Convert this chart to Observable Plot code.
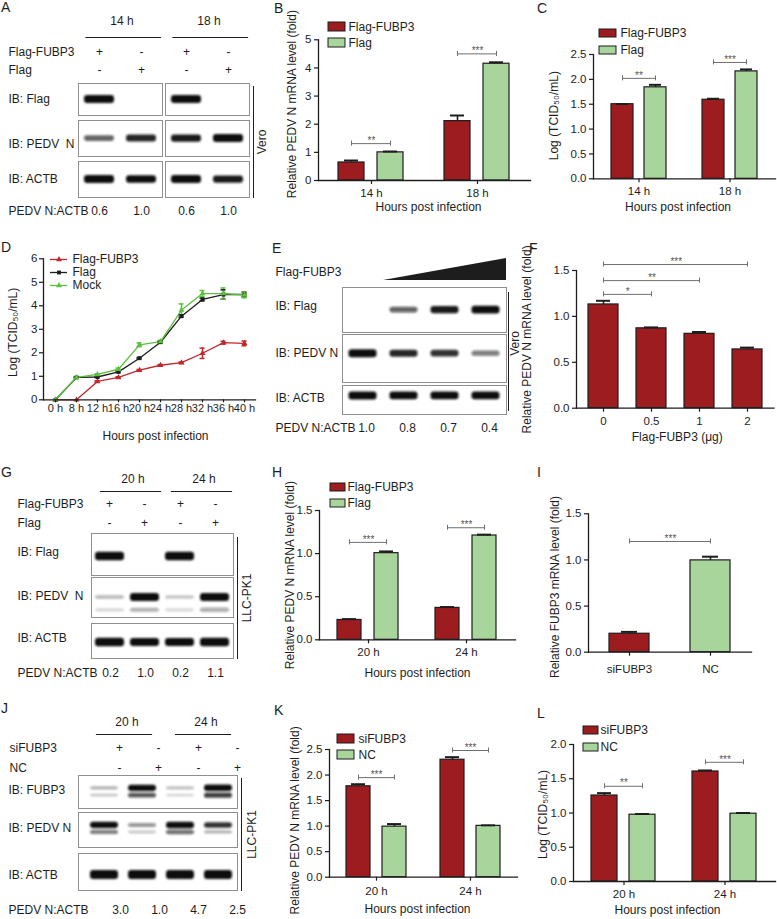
<!DOCTYPE html>
<html><head><meta charset="utf-8">
<script src="https://cdn.jsdelivr.net/npm/d3@7"></script>
<script src="https://cdn.jsdelivr.net/npm/@observablehq/plot@0.6"></script>
<style>
html,body{margin:0;padding:0;background:#fff;overflow:hidden}
#fig{position:relative;width:777px;height:919px;overflow:hidden;background:#fff;font-family:"Liberation Sans",Arial,Helvetica,sans-serif;color:#1d1d1d}
.plab{position:absolute;font-size:14px;line-height:14px}
</style></head><body><div id="fig"></div><script>
// ================= DATA =================
// A (western blot, Vero)
const aTimes = ["14 h", "18 h"];
const aConds = ["Flag-FUBP3", "Flag"];
const aSigns = [["+", "-", "+", "-"], ["-", "+", "-", "+"]];
const aFlag = [1, 0, 1, 0];
const aPedv = [0.55, 0.8, 0.85, 1];
const aActb = [1, 0.9, 1, 0.85];
const aRatio = ["0.6", "1.0", "0.6", "1.0"];
// B
const bGroups = ["14 h", "18 h"];
const bSeries = ["Flag-FUBP3", "Flag"];
const bMean = [[0.64, 1.0], [2.11, 4.15]];
const bSem = [[0.07, 0.03], [0.2, 0.05]];
const bStars = ["**", "***"];
const bBracket = [1.31, 4.5];
// C
const cGroups = ["14 h", "18 h"];
const cMean = [[1.5, 1.84], [1.59, 2.16]];
const cSem = [[0.005, 0.05], [0.02, 0.04]];
const cStars = ["**", "***"];
const cBracket = [2.02, 2.34];
// D
const dTimes = ["0 h", "8 h", "12 h", "16 h", "20 h", "24 h", "28 h", "32 h", "36 h", "40 h"];
const dSeries = ["Flag-FUBP3", "Flag", "Mock"];
const dFubp3 = [0, 0, 0.78, 0.95, 1.26, 1.47, 1.58, 1.98, 2.43, 2.4];
const dFlag = [0, 0.95, 0.97, 1.19, 1.77, 2.45, 3.56, 4.27, 4.48, 4.48];
const dMock = [0, 0.95, 1.08, 1.3, 2.34, 2.48, 3.82, 4.52, 4.52, 4.46];
const dFubp3Err = [0, 0, 0.03, 0.03, 0.03, 0.03, 0.03, 0.22, 0.06, 0.1];
const dFlagErr = [0, 0.02, 0.02, 0.03, 0.03, 0.03, 0.05, 0.06, 0.2, 0.1];
const dMockErr = [0, 0.03, 0.03, 0.05, 0.08, 0.05, 0.26, 0.13, 0.24, 0.12];
// E (western blot, dose)
const eDoses = ["0", "0.5", "1", "2"];
const eWedge = [0, 1];
const eFlag = [0, 0.55, 0.85, 0.95];
const ePedv = [1, 0.8, 0.75, 0.45];
const eActb = [1, 0.95, 0.95, 0.95];
const eRatio = ["1.0", "0.8", "0.7", "0.4"];
// F
const fMean = [1.13, 0.87, 0.81, 0.64];
const fSem = [0.04, 0.01, 0.02, 0.02];
const fSig = [{from: "0", to: "0.5", label: "*", y: 1.24}, {from: "0", to: "1", label: "**", y: 1.39}, {from: "0", to: "2", label: "***", y: 1.565}];
// G (western blot, LLC-PK1)
const gTimes = ["20 h", "24 h"];
const gConds = ["Flag-FUBP3", "Flag"];
const gSigns = [["+", "-", "+", "-"], ["-", "+", "-", "+"]];
const gFlag = [1, 0, 1, 0];
const gPedv = [0.15, 0.9, 0.12, 0.95];
const gPedvLow = [0.06, 0.2, 0.05, 0.25];
const gActb = [1, 0.9, 0.9, 1];
const gRatio = ["0.2", "1.0", "0.2", "1.1"];
// H
const hGroups = ["20 h", "24 h"];
const hMean = [[0.23, 1.005], [0.37, 1.21]];
const hSem = [[0.01, 0.02], [0.01, 0.01]];
const hStars = ["***", "***"];
const hBracket = [1.13, 1.30];
// I
const iCats = ["siFUBP3", "NC"];
const iMean = [0.2, 0.995];
const iSem = [0.02, 0.04];
const iSig = [{from: "siFUBP3", to: "NC", label: "***", y: 1.2}];
// J (western blot, knockdown)
const jTimes = ["20 h", "24 h"];
const jConds = ["siFUBP3", "NC"];
const jSigns = [["+", "-", "+", "-"], ["-", "+", "-", "+"]];
const jFubp3Up = [0.2, 0.95, 0.15, 1];
const jFubp3Low = [0.12, 0.6, 0.06, 0.7];
const jPedvUp = [0.95, 0.35, 1, 0.75];
const jPedvLow = [0.45, 0.12, 0.5, 0.2];
const jActb = [1, 1, 1, 1];
const jRatio = ["3.0", "1.0", "4.7", "2.5"];
// K
const kGroups = ["20 h", "24 h"];
const kSeries = ["siFUBP3", "NC"];
const kMean = [[1.78, 0.99], [2.3, 1.005]];
const kSem = [[0.04, 0.05], [0.05, 0.01]];
const kStars = ["***", "***"];
const kBracket = [1.95, 2.48];
// L
const lGroups = ["20 h", "24 h"];
const lMean = [[1.255, 0.975], [1.606, 0.99]];
const lSem = [[0.035, 0.01], [0.015, 0.01]];
const lStars = ["**", "***"];
const lBracket = [1.39, 1.74];

// ================= STYLE / HELPERS =================
const fig = document.getElementById("fig");
const W = 777, H = 919;
const FONT = '"Liberation Sans", Arial, Helvetica, sans-serif';
const INK = "#1d1d1d";
const RED = "#9d1c20", GREEN = "#a8d59b";
const SIG = "#6f6f6f";
const STAR = "#555555";
const D_COLORS = ["#c0282d", "#1d1d1d", "#5cbf3e"];
const LOGT = "Log (TCID\u2085\u2080/mL)";
const f1 = d3.format(".1f");
let uid = 0;

function page(frame, opts) {
  const [l, t, r, b] = frame;
  const svg = Plot.plot({
    width: W, height: H,
    marginLeft: l, marginTop: t, marginRight: W - r, marginBottom: H - b,
    style: {fontFamily: FONT, fontSize: "12px", color: INK, background: "none", overflow: "visible"},
    ...opts
  });
  svg.style.position = "absolute";
  svg.style.left = "0px";
  svg.style.top = "0px";
  fig.appendChild(svg);
  return svg;
}

function blur(svg, sd) {
  const id = "bl" + (uid++);
  const ns = "http://www.w3.org/2000/svg";
  const defs = document.createElementNS(ns, "defs");
  const f = document.createElementNS(ns, "filter");
  f.setAttribute("id", id);
  f.setAttribute("filterUnits", "userSpaceOnUse");
  f.setAttribute("x", -W); f.setAttribute("y", -H);
  f.setAttribute("width", 3 * W); f.setAttribute("height", 3 * H);
  const g = document.createElementNS(ns, "feGaussianBlur");
  g.setAttribute("stdDeviation", sd);
  f.appendChild(g); defs.appendChild(f);
  svg.insertBefore(defs, svg.firstChild);
  svg.querySelectorAll('g[aria-label="bar"]').forEach(e => e.setAttribute("filter", `url(#${id})`));
}

function laneRecs(groups, lanes) {
  return groups ? groups.flatMap(g => lanes.map(l => ({group: g, lane: l}))) : lanes.map(l => ({lane: l}));
}
function bandsOf(recs, values, level) {
  return recs.map((r, i) => ({...r, level, v: values[i]}));
}

const yTitleOpts = {textAnchor: "middle", lineAnchor: "middle", frameAnchor: "left", rotate: -90, fontSize: 12};
const xTitleOpts = {textAnchor: "middle", lineAnchor: "middle", frameAnchor: "bottom", fontSize: 12};

function swatchLegend(o) {
  const n = o.series.length;
  page([o.x, o.y, o.x + o.w, o.y + o.step * (n - 1) + o.h], {
    y: {domain: o.series, paddingInner: (o.step - o.h) / o.step, paddingOuter: 0, axis: null},
    color: {domain: o.series, range: [RED, GREEN]},
    marks: [
      Plot.cell(o.series, {y: d => d, fill: d => d, stroke: INK, strokeWidth: 1}),
      Plot.text(o.series, {y: d => d, text: d => d, frameAnchor: "right", textAnchor: "start", lineAnchor: "middle", dx: o.gap, fontSize: 12})
    ]
  });
}

function groupedBars(o) {
  const data = o.groups.flatMap((g, gi) => o.series.map((s, si) => ({group: g, series: s, value: o.mean[gi][si], err: o.sem[gi][si]})));
  const sig = o.groups.map((g, gi) => ({group: g, label: o.stars[gi], y: o.bracket[gi]}));
  const ends = sig.flatMap(d => o.series.map(s => ({...d, series: s})));
  const fxs = {fx: "group", x: "series"};
  page(o.frame, {
    fx: {domain: o.groups, paddingInner: 0, paddingOuter: 0, axis: null},
    x: {domain: o.series, paddingInner: o.pi, paddingOuter: o.po, axis: null},
    y: {domain: o.yDomain, axis: null},
    color: {domain: o.series, range: [RED, GREEN]},
    marks: [
      Plot.barY(data, {...fxs, y: "value", fill: "series", stroke: INK, strokeWidth: 1.2}),
      Plot.ruleX(data, {...fxs, y1: "value", y2: d => d.value + d.err, stroke: INK, strokeWidth: 1.6}),
      Plot.tickY(data, {...fxs, y: d => d.value + d.err, stroke: INK, strokeWidth: 2, insetLeft: o.cap, insetRight: o.cap}),
      Plot.link(sig, {fx: "group", x1: () => o.series[0], x2: () => o.series[1], y1: "y", y2: "y", stroke: SIG, strokeWidth: 1}),
      Plot.ruleX(ends, {...fxs, y1: "y", y2: "y", insetTop: -2.5, insetBottom: -2.5, stroke: SIG, strokeWidth: 1}),
      Plot.text(sig, {fx: "group", y: "y", text: "label", dy: -3, fill: STAR, fontSize: 10}),
      Plot.axisY({ticks: o.yTicks, tickFormat: o.fmt, tickSize: 4, tickPadding: 3, fontSize: 11.5, strokeWidth: 1.2, label: null}),
      Plot.axisFx({anchor: "bottom", tickSize: 4, tickPadding: o.xTickPad ?? 4, fontSize: 11.5, strokeWidth: 1.2, label: null}),
      Plot.frame({anchor: "left", facet: "super", stroke: INK, strokeWidth: 1.3}),
      Plot.frame({anchor: "bottom", facet: "super", stroke: INK, strokeWidth: 1.3}),
      Plot.text([o.yTitle], {...yTitleOpts, facet: "super", text: d => d, dx: o.ytDx, dy: o.ytDy || 0}),
      Plot.text([o.xTitle], {...xTitleOpts, facet: "super", text: d => d, dy: o.xtDy, dx: o.xtDx || 0})
    ]
  });
  swatchLegend({...o.legend, series: o.series});
}

function singleBars(o) {
  const data = o.cats.map((c, i) => ({cat: c, value: o.mean[i], err: o.sem[i]}));
  const ends = o.sig.flatMap(d => [{...d, cat: d.from}, {...d, cat: d.to}]);
  const n = o.cats.length;
  const step = (o.frame[2] - o.frame[0]) / (n - o.pi + 2 * o.po);
  const starMarks = o.sig.map(d => Plot.text([d], {x: "from", y: "y", text: "label", dy: -3, dx: (o.cats.indexOf(d.to) - o.cats.indexOf(d.from)) * step / 2, fill: STAR, fontSize: 10}));
  page(o.frame, {
    x: {domain: o.cats, paddingInner: o.pi, paddingOuter: o.po, axis: null},
    y: {domain: o.yDomain, axis: null},
    color: {domain: o.cats, range: o.fills},
    marks: [
      Plot.barY(data, {x: "cat", y: "value", fill: "cat", stroke: INK, strokeWidth: 1.2}),
      Plot.ruleX(data, {x: "cat", y1: "value", y2: d => d.value + d.err, stroke: INK, strokeWidth: 1.6}),
      Plot.tickY(data, {x: "cat", y: d => d.value + d.err, stroke: INK, strokeWidth: 2, insetLeft: o.cap, insetRight: o.cap}),
      Plot.link(o.sig, {x1: "from", x2: "to", y1: "y", y2: "y", stroke: SIG, strokeWidth: 1}),
      Plot.ruleX(ends, {x: "cat", y1: "y", y2: "y", insetTop: -2.5, insetBottom: -2.5, stroke: SIG, strokeWidth: 1}),
      ...starMarks,
      Plot.axisY({ticks: o.yTicks, tickFormat: o.fmt, tickSize: 4, tickPadding: 3, fontSize: 11.5, strokeWidth: 1.2, label: null}),
      Plot.axisX({tickSize: 4, tickPadding: o.xTickPad ?? 4, fontSize: 11.5, strokeWidth: 1.2, label: null}),
      Plot.frame({anchor: "left", stroke: INK, strokeWidth: 1.3}),
      Plot.frame({anchor: "bottom", stroke: INK, strokeWidth: 1.3}),
      Plot.text([o.yTitle], {...yTitleOpts, text: d => d, dx: o.ytDx, dy: o.ytDy || 0}),
      o.xTitle ? Plot.text([o.xTitle], {...xTitleOpts, text: d => d, dy: o.xtDy, dx: o.xtDx || 0}) : null
    ]
  });
}

function blotRow(o) {
  const [l, t, r, b] = o.box;
  const hpx = b - t;
  const half = d => (o.thin + o.thick * d.v) / 2 / hpx;
  const hasFx = !!o.groups;
  const bands = o.bands.filter(d => d.v > 0);
  const svg = page(o.box, {
    fx: hasFx ? {domain: o.groups, paddingInner: o.fxPad, paddingOuter: 0, axis: null} : undefined,
    x: {domain: o.lanes, paddingInner: 0, paddingOuter: o.po || 0, align: o.align ?? 0.5, axis: null},
    y: {domain: [0, 1], axis: null},
    marks: [
      Plot.barY(bands, {...(hasFx ? {fx: "group"} : {}), x: "lane", y1: d => o.levels[d.level] - half(d), y2: d => o.levels[d.level] + half(d),
        fill: "#111", fillOpacity: d => Math.min(1, 0.1 + d.v), insetLeft: o.inset, insetRight: o.inset, rx: 3}),
      Plot.frame({stroke: "#8f8f8f", strokeWidth: 1}),
      Plot.text([o.label], {...(hasFx ? {fx: () => o.groups[0]} : {}), text: d => d, frameAnchor: "left", textAnchor: "start", lineAnchor: "middle", dx: o.labelX - l, dy: o.labelDy || 0})
    ]
  });
  blur(svg, o.blur ?? 0.9);
}

function blotHeader(o) {
  const recs = laneRecs(o.groups, o.lanes);
  const signs = o.rowNames.flatMap((row, ri) => recs.map((rec, li) => ({...rec, row, s: o.signs[ri][li]})));
  page([o.l, o.lineY, o.r, o.bottom], {
    fx: {domain: o.groups, paddingInner: o.fxPad, paddingOuter: 0, axis: null},
    x: {domain: o.lanes, paddingInner: 0, paddingOuter: o.po || 0, align: o.align ?? 0.5, axis: null},
    y: {type: "point", domain: o.rowNames, range: o.rowY, padding: 0, axis: null},
    marks: [
      Plot.frame({anchor: "top", insetLeft: o.lineInset[0], insetRight: o.lineInset[1], stroke: INK, strokeWidth: 1.2}),
      Plot.text(o.groups, {fx: d => d, text: d => d, frameAnchor: "top", lineAnchor: "middle", dy: o.timeDy, dx: o.timeDx || 0}),
      Plot.text(signs, {fx: "group", x: "lane", y: "row", text: "s"}),
      Plot.text(o.rowNames, {fx: () => o.groups[0], y: d => d, text: d => d, frameAnchor: "left", textAnchor: "start", lineAnchor: "middle", dx: o.labelX - o.l})
    ]
  });
}

function ratioRow(o) {
  const hasFx = !!o.groups;
  const recs = laneRecs(o.groups, o.lanes).map((d, i) => ({...d, v: o.values[i]}));
  page([o.l, o.y - 6, o.r, o.y + 6], {
    fx: hasFx ? {domain: o.groups, paddingInner: o.fxPad, paddingOuter: 0, axis: null} : undefined,
    x: {domain: o.lanes, paddingInner: 0, paddingOuter: o.po || 0, align: o.align ?? 0.5, axis: null},
    marks: [
      Plot.text(recs, {...(hasFx ? {fx: "group"} : {}), x: "lane", text: "v", dx: o.valDx || 0}),
      Plot.text(["PEDV N:ACTB"], {...(hasFx ? {fx: () => o.groups[0]} : {}), text: d => d, frameAnchor: "left", textAnchor: "start", lineAnchor: "middle", dx: o.labelX - o.l})
    ]
  });
}

function sideLabel(x, y1, y2, label, dx, dy = 0) {
  page([x, y1, x + 10, y2], {
    marks: [
      Plot.frame({anchor: "left", stroke: INK, strokeWidth: 1}),
      Plot.text([label], {text: d => d, frameAnchor: "left", textAnchor: "middle", lineAnchor: "middle", rotate: -90, dx, dy})
    ]
  });
}

// ================= PANEL A =================
{
  const recs = laneRecs(aTimes, aConds);
  const common = {groups: aTimes, lanes: aConds, fxPad: 0.034, inset: 6, labelX: 8, levels: {main: 0.5}, thin: 3, thick: 5};
  blotHeader({l: 78, r: 250, lineY: 37, bottom: 76, groups: aTimes, lanes: aConds, fxPad: 0.034,
    rowNames: aConds, rowY: [52, 70], signs: aSigns, labelX: 8, lineInset: [7.5, 2], timeDy: -16, timeDx: 1.5});
  blotRow({...common, box: [78, 83, 250, 115], label: "IB: Flag", bands: bandsOf(recs, aFlag, "main")});
  blotRow({...common, box: [78, 120, 250, 156], label: "IB: PEDV  N", labelDy: 6, bands: bandsOf(recs, aPedv, "main")});
  blotRow({...common, box: [78, 161, 250, 197], label: "IB: ACTB", bands: bandsOf(recs, aActb, "main")});
  ratioRow({l: 78, r: 250, y: 211, groups: aTimes, lanes: aConds, fxPad: 0.034, values: aRatio, labelX: 8});
  sideLabel(253, 86, 197, "Vero", 9);
}

// ================= PANEL B =================
groupedBars({frame: [318, 39.3, 530, 180], groups: bGroups, series: bSeries, mean: bMean, sem: bSem, stars: bStars, bracket: bBracket,
  pi: 0.325, po: 0.5, cap: 6, yDomain: [0, 5], yTicks: [0, 1, 2, 3, 4, 5], fmt: d => d,
  yTitle: "Relative PEDV N mRNA level (fold)", ytDx: -26, ytDy: -6, xTitle: "Hours post infection", xtDy: 27, xtDx: 4,
  legend: {x: 328, y: 22, w: 17, h: 8.5, step: 16, gap: 3}});

// ================= PANEL C =================
groupedBars({frame: [592, 54, 775, 178.3], groups: cGroups, series: bSeries, mean: cMean, sem: cSem, stars: cStars, bracket: cBracket,
  pi: 0.32, po: 0.5, cap: 5, yDomain: [0, 2.5], yTicks: [0, 0.5, 1, 1.5, 2, 2.5], fmt: f1,
  yTitle: LOGT, ytDx: -39, ytDy: -1, xTitle: "Hours post infection", xtDy: 28.7, xtDx: -6.5,
  legend: {x: 599, y: 29, w: 17, h: 8, step: 17, gap: 4}});

// ================= PANEL D =================
{
  const vals = [dFubp3, dFlag, dMock], errs = [dFubp3Err, dFlagErr, dMockErr];
  const data = dSeries.flatMap((s, si) => dTimes.map((t, ti) => ({series: s, time: t, value: vals[si][ti], err: errs[si][ti]})));
  const withErr = data.filter(d => d.err > 0.015);
  const sym = {domain: dSeries, range: ["triangle", "square", "triangle"]};
  page([43, 258.3, 255, 399.3], {
    x: {type: "point", domain: dTimes, padding: 0.47, axis: null},
    y: {domain: [0, 6], axis: null},
    color: {domain: dSeries, range: D_COLORS},
    symbol: sym,
    marks: [
      Plot.line(data, {x: "time", y: "value", stroke: "series", strokeWidth: 1.3}),
      Plot.ruleX(withErr, {x: "time", y1: d => d.value - d.err, y2: d => d.value + d.err, stroke: "series", strokeWidth: 1.5}),
      Plot.ruleY(withErr, {x1: "time", x2: "time", y: d => d.value + d.err, insetLeft: -2.5, insetRight: -2.5, stroke: "series", strokeWidth: 1.5}),
      Plot.ruleY(withErr, {x1: "time", x2: "time", y: d => d.value - d.err, insetLeft: -2.5, insetRight: -2.5, stroke: "series", strokeWidth: 1.5}),
      Plot.dot(data, {x: "time", y: "value", fill: "series", symbol: "series", r: 2.2}),
      Plot.axisY({ticks: [0, 1, 2, 3, 4, 5, 6], tickFormat: d => d, tickSize: 4, tickPadding: 2, fontSize: 11.5, strokeWidth: 1.2, label: null}),
      Plot.axisX({tickSize: 3, tickPadding: 1, fontSize: 11, strokeWidth: 1.2, label: null}),
      Plot.frame({anchor: "left", stroke: INK, strokeWidth: 1.3}),
      Plot.frame({anchor: "bottom", stroke: INK, strokeWidth: 1.3}),
      Plot.text([LOGT], {...yTitleOpts, text: d => d, dx: -30, dy: 3}),
      Plot.text(["Hours post infection"], {...xTitleOpts, text: d => d, dy: 36.7, dx: 6})
    ]
  });
  page([50, 252, 67, 292], {
    y: {type: "point", domain: dSeries, range: [258, 285], padding: 0, axis: null},
    color: {domain: dSeries, range: D_COLORS},
    symbol: sym,
    marks: [
      Plot.ruleY(dSeries, {y: d => d, stroke: d => d, strokeWidth: 1.3}),
      Plot.dot(dSeries, {y: d => d, fill: d => d, symbol: d => d, r: 2.2}),
      Plot.text(dSeries, {y: d => d, text: d => d, frameAnchor: "right", textAnchor: "start", lineAnchor: "middle", dx: 5})
    ]
  });
}

// ================= PANEL E =================
{
  const recs = laneRecs(null, eDoses);
  const common = {lanes: eDoses, inset: 6.5, labelX: 275, thin: 3, thick: 5};
  page([383, 258, 506, 280], {
    x: {domain: [0, 1], axis: null}, y: {domain: [0, 1], axis: null},
    marks: [
      Plot.areaY(eWedge, {x: d => d, y: d => d, fill: INK}),
      Plot.text(["Flag-FUBP3"], {text: d => d, frameAnchor: "left", textAnchor: "start", lineAnchor: "middle", dx: 275 - 383, dy: 3})
    ]
  });
  blotRow({...common, box: [342, 287, 506, 332], label: "IB: Flag", labelDy: -4, levels: {main: 0.5}, bands: bandsOf(recs, eFlag, "main")});
  blotRow({...common, box: [342, 334, 506, 382], label: "IB: PEDV N", labelDy: -5, levels: {main: 0.6}, bands: bandsOf(recs, ePedv, "main")});
  blotRow({...common, box: [342, 385, 506, 414], label: "IB: ACTB", labelDy: -1.5, levels: {main: 0.64}, bands: bandsOf(recs, eActb, "main")});
  ratioRow({l: 342, r: 506, y: 428, lanes: eDoses, values: eRatio, labelX: 275, valDx: 3});
  sideLabel(508, 292, 410, "Vero", 6.5, -8);
}

// ================= PANEL F =================
singleBars({frame: [576, 270, 773.5, 407.7], cats: eDoses, mean: fMean, sem: fSem, sig: fSig, fills: [RED, RED, RED, RED],
  pi: 0.37, po: 0.22, cap: 8, yDomain: [0, 1.5], yTicks: [0, 0.5, 1, 1.5], fmt: f1,
  yTitle: "Relative PEDV N mRNA level (fold)", ytDx: -49, xTitle: "Flag-FUBP3 (\u03bcg)", xtDy: 29.3, xtDx: 2, xTickPad: 5});

// ================= PANEL G =================
{
  const lanes = gTimes.flatMap(t => gConds.map(c => t + " " + c));
  const recs = laneRecs(null, lanes);
  const common = {lanes, inset: 3, labelX: 17, thin: 3, thick: 5.5};
  blotHeader({l: 91, r: 233, lineY: 491, bottom: 530, groups: gTimes, lanes: gConds, fxPad: 0,
    rowNames: gConds, rowY: [504, 523], signs: gSigns, labelX: 17, lineInset: [9, 2], timeDy: -12, timeDx: 6});
  blotRow({...common, box: [91, 533, 233, 575], label: "IB: Flag", labelDy: -2, levels: {main: 0.45}, bands: bandsOf(recs, gFlag, "main")});
  blotRow({...common, box: [91, 577, 233, 617], label: "IB: PEDV  N", labelDy: -1, levels: {main: 0.5, low: 0.18},
    bands: [...bandsOf(recs, gPedv, "main"), ...bandsOf(recs, gPedvLow, "low")]});
  blotRow({...common, box: [91, 623, 233, 658], label: "IB: ACTB", labelDy: -3, levels: {main: 0.46}, bands: bandsOf(recs, gActb, "main")});
  ratioRow({l: 91, r: 233, y: 673, lanes, values: gRatio, labelX: 17});
  sideLabel(237, 537, 658, "LLC-PK1", 10);
}

// ================= PANEL H =================
groupedBars({frame: [319, 510, 515, 639.3], groups: hGroups, series: bSeries, mean: hMean, sem: hSem, stars: hStars, bracket: hBracket,
  pi: 0.34, po: 0.49, cap: 5, yDomain: [0, 1.5], yTicks: [0, 0.5, 1, 1.5], fmt: f1,
  yTitle: "Relative PEDV N mRNA level (fold)", ytDx: -29, xTitle: "Hours post infection", xtDy: 33.7,
  legend: {x: 330, y: 483, w: 15, h: 8, step: 16, gap: 2}});

// ================= PANEL I =================
singleBars({frame: [588, 513.3, 751, 651.7], cats: iCats, mean: iMean, sem: iSem, sig: iSig, fills: [RED, GREEN],
  pi: 0.51, po: 0.25, cap: 12, yDomain: [0, 1.5], yTicks: [0, 0.5, 1, 1.5], fmt: f1,
  yTitle: "Relative FUBP3 mRNA level (fold)", ytDx: -33, ytDy: 4, xTickPad: 9});

// ================= PANEL J =================
{
  const lanes = jTimes.flatMap(t => jConds.map(c => t + " " + c));
  const recs = laneRecs(null, lanes);
  const common = {lanes, inset: 5, labelX: 8, po: 0.065, align: 1, thin: 2.5, thick: 4};
  blotHeader({l: 78, r: 237, lineY: 734, bottom: 772, groups: jTimes, lanes: jConds, fxPad: 0, po: 0.104, align: 1,
    rowNames: jConds, rowY: [748, 768], signs: jSigns, labelX: 8, lineInset: [17, 7], timeDy: -12, timeDx: 8});
  blotRow({...common, box: [78, 775, 237, 808], label: "IB: FUBP3", labelDy: -1.5, levels: {up: 0.61, low: 0.39},
    bands: [...bandsOf(recs, jFubp3Up, "up"), ...bandsOf(recs, jFubp3Low, "low")]});
  blotRow({...common, box: [78, 812, 237, 847], label: "IB: PEDV N", labelDy: -1.5, levels: {up: 0.63, low: 0.43},
    bands: [...bandsOf(recs, jPedvUp, "up"), ...bandsOf(recs, jPedvLow, "low")]});
  blotRow({...common, box: [78, 853, 237, 890], label: "IB: ACTB", labelDy: 3.5, levels: {main: 0.42}, thin: 4, thick: 5,
    bands: bandsOf(recs, jActb, "main")});
  ratioRow({l: 78, r: 237, y: 910, lanes, values: jRatio, labelX: 8, po: 0.065, align: 1});
  sideLabel(241, 778, 890, "LLC-PK1", 11);
}

// ================= PANEL K =================
groupedBars({frame: [329, 749, 517, 876.7], groups: kGroups, series: kSeries, mean: kMean, sem: kSem, stars: kStars, bracket: kBracket,
  pi: 0.33, po: 0.45, cap: 5, yDomain: [0, 2.5], yTicks: [0, 0.5, 1, 1.5, 2, 2.5], fmt: f1,
  yTitle: "Relative PEDV N mRNA level (fold)", ytDx: -34, ytDy: 7, xTitle: "Hours post infection", xtDy: 32.3, xtDx: -6, xTickPad: 6,
  legend: {x: 337, y: 734, w: 17, h: 8.5, step: 16, gap: 4}});

// ================= PANEL L =================
groupedBars({frame: [573, 744, 775, 881], groups: lGroups, series: kSeries, mean: lMean, sem: lSem, stars: lStars, bracket: lBracket,
  pi: 0.31, po: 0.45, cap: 6, yDomain: [0, 2], yTicks: [0, 0.5, 1, 1.5, 2], fmt: f1,
  yTitle: LOGT, ytDx: -30, ytDy: 1.5, xTitle: "Hours post infection", xtDy: 29, xtDx: -7,
  legend: {x: 583, y: 726, w: 15, h: 8, step: 17, gap: 2}});

// ================= PANEL LETTERS =================
const letters = [["A", 2, 2], ["B", 275, 3], ["C", 538, 3], ["D", 2, 242], ["E", 273, 243], ["F", 530, 243],
  ["G", 2, 467], ["H", 273, 467], ["I", 538, 467], ["J", 2, 703], ["K", 275, 705], ["L", 538, 708]];
for (const [t, x, y] of letters) {
  const d = document.createElement("div");
  d.className = "plab";
  d.textContent = t;
  d.style.left = (x - 1) + "px";
  d.style.top = (y - 2) + "px";
  fig.appendChild(d);
}
</script></body></html>
